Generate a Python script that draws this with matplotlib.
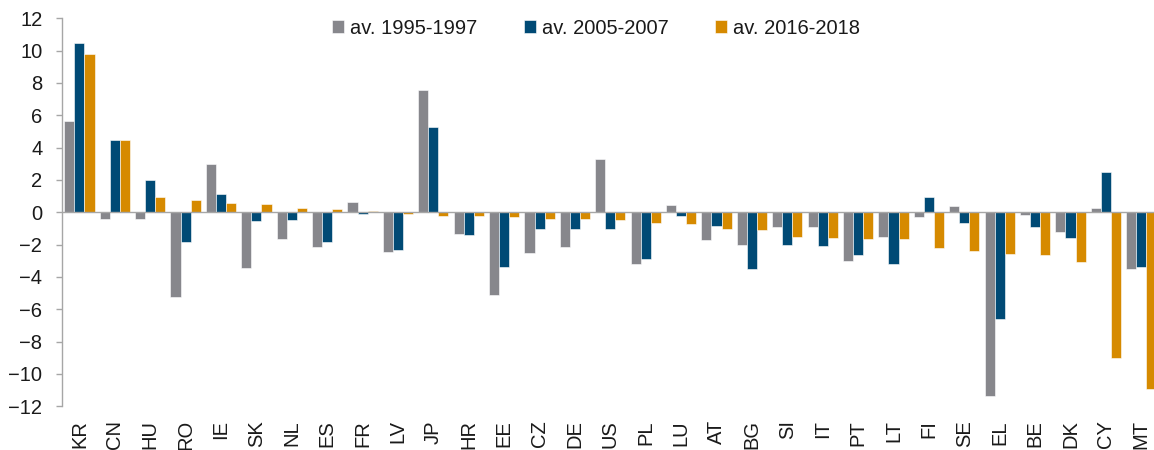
import numpy as np
import matplotlib
matplotlib.use('Agg')
import matplotlib.pyplot as plt

plt.rcParams['font.family'] = ['Liberation Sans', 'DejaVu Sans']

countries = ['KR', 'CN', 'HU', 'RO', 'IE', 'SK', 'NL', 'ES', 'FR', 'LV', 'JP',
             'HR', 'EE', 'CZ', 'DE', 'US', 'PL', 'LU', 'AT', 'BG', 'SI', 'IT',
             'PT', 'LT', 'FI', 'SE', 'EL', 'BE', 'DK', 'CY', 'MT']
av_1995_1997 = [5.67, -0.39, -0.43, -5.26, 2.99, -3.42, -1.67, -2.12, 0.66, -2.47, 7.55,
                -1.32, -5.13, -2.54, -2.14, 3.30, -3.22, 0.43, -1.73, -2.00, -0.89, -0.93,
                -2.99, -1.55, -0.31, 0.37, -11.38, -0.14, -1.20, 0.27, -3.53]
av_2005_2007 = [10.50, 4.50, 2.00, -1.86, 1.13, -0.56, -0.45, -1.81, -0.08, -2.35, 5.28,
                -1.42, -3.36, -1.05, -1.05, -1.03, -2.89, -0.25, -0.85, -3.50, -2.04, -2.08,
                -2.66, -3.20, 0.93, -0.68, -6.60, -0.93, -1.61, 2.47, -3.40]
av_2016_2018 = [9.77, 4.50, 0.95, 0.78, 0.58, 0.49, 0.29, 0.20, 0.08, -0.08, -0.25,
                -0.25, -0.29, -0.41, -0.43, -0.45, -0.68, -0.70, -1.03, -1.09, -1.55, -1.61,
                -1.63, -1.65, -2.19, -2.37, -2.60, -2.62, -3.05, -9.01, -10.90]
series_labels = ['av. 1995-1997', 'av. 2005-2007', 'av. 2016-2018']
colors = ['#87878C', '#004A75', '#D68A00']

W, H = 1154, 450
fig = plt.figure(figsize=(W / 100, H / 100), dpi=100, facecolor='white')
left, right = 61.7, 1159.0
top, bottom = 18.3, 406.3
ax = fig.add_axes([left / W, (H - bottom) / H, (right - left) / W, (bottom - top) / H])

x = np.arange(len(countries))
width = 0.285
for i, (vals, lab, c) in enumerate(zip([av_1995_1997, av_2005_2007, av_2016_2018],
                                       series_labels, colors)):
    ax.bar(x + (i - 1) * width, vals, width, color=c, label=lab,
           edgecolor='white', linewidth=0.4, zorder=2)

ax.axhline(0, color='#A6A6A6', linewidth=1.0, zorder=3)
ax.set_xlim(-0.5, len(countries) - 0.5)
ax.set_ylim(-12, 12)
ax.set_yticks(np.arange(-12, 13, 2))

for s in ['top', 'right', 'bottom']:
    ax.spines[s].set_visible(False)
ax.spines['left'].set_color('#A6A6A6')
ax.spines['left'].set_linewidth(1.0)

ax.tick_params(axis='y', direction='out', length=4, width=1.0, color='#A6A6A6',
               labelsize=14.5, pad=10, labelcolor='#1a1a1a')
ax.set_xticks(x)
ax.set_xticklabels(countries, rotation=90, fontsize=14.5, color='#1a1a1a')
ax.tick_params(axis='x', length=0, pad=10)

leg = ax.legend(loc='upper center', bbox_to_anchor=((596 - left) / (right - left), 1.045),
                ncol=3, frameon=False, fontsize=14.5, handlelength=0.6,
                handleheight=0.6, handletextpad=0.3, columnspacing=2.3)
for t in leg.get_texts():
    t.set_color('#1a1a1a')

fig.savefig('out.png', dpi=100, facecolor='white')
